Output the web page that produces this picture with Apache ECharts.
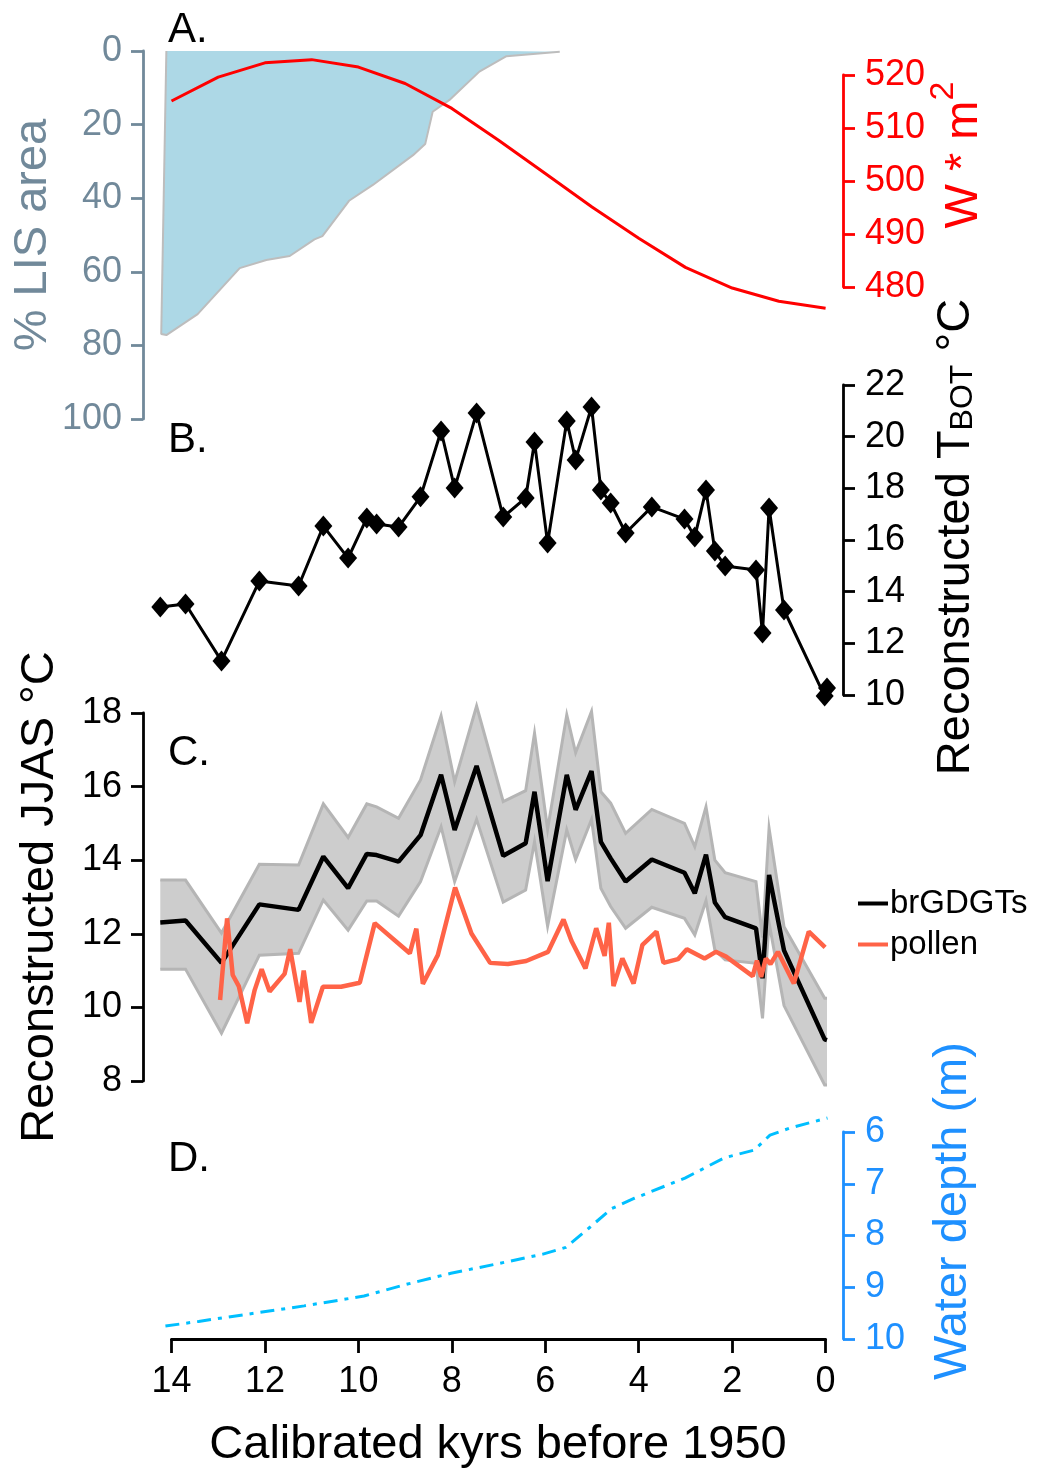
<!DOCTYPE html>
<html>
<head>
<meta charset="utf-8">
<script src="https://cdn.jsdelivr.net/npm/echarts@6/dist/echarts.min.js"></script>
<style>
  html, body { margin: 0; background: #fff; }
  #chart { width: 1037px; height: 1474px; }
</style>
</head>
<body>
<div id="chart"></div>
<script>
// A. Laurentide ice sheet extent and summer insolation
const lisAges = [14.11, 14.22, 14.11, 13.44, 12.54, 11.97, 11.47, 10.94, 10.77, 10.20, 9.69, 8.83, 8.57, 8.41, 8.05, 7.41, 6.83, 5.69];
const lisArea = [0, 76.9, 77.2, 71.5, 59.0, 56.8, 55.7, 51.2, 50.3, 40.7, 36.4, 28.3, 25.3, 16.5, 13.3, 5.6, 1.4, 0.2];
const insolAges = [14, 13, 12, 11, 10, 9, 8, 7, 6, 5, 4, 3, 2, 1, 0];
const insolation = [515.1, 519.6, 522.3, 522.9, 521.5, 518.4, 513.7, 507.7, 501.4, 495.1, 489.2, 483.7, 479.8, 477.3, 476.0];

// B. / C. brGDGT samples (shared ages)
const sampleAges = [14.24, 13.70, 12.93, 12.12, 11.28, 10.75, 10.22, 9.82, 9.61, 9.14, 8.67, 8.23, 7.94, 7.47, 6.90, 6.42, 6.23, 5.95, 5.54, 5.35, 5.01, 4.81, 4.60, 4.28, 3.72, 3.02, 2.80, 2.56, 2.37, 2.15, 1.49, 1.35, 1.21, 0.89, 0.02, -0.03];
const tBot = [13.41, 13.52, 11.32, 14.41, 14.22, 16.54, 15.30, 16.85, 16.62, 16.50, 17.67, 20.22, 18.01, 20.92, 16.89, 17.63, 19.79, 15.88, 20.61, 19.10, 21.15, 17.94, 17.43, 16.27, 17.28, 16.81, 16.12, 17.94, 15.57, 14.99, 14.84, 12.40, 17.24, 13.29, 9.96, 10.27];
const jjas = [12.31, 12.36, 11.21, 12.80, 12.65, 14.10, 13.24, 14.17, 14.14, 13.96, 14.68, 16.32, 14.82, 16.56, 14.12, 14.46, 15.86, 13.43, 16.32, 15.37, 16.42, 14.50, 14.05, 13.42, 14.02, 13.66, 13.10, 14.15, 12.85, 12.45, 12.15, 10.79, 13.60, 11.55, 9.13, 9.11];
const jjasUpper = [13.46, 13.46, 12.02, 13.89, 13.87, 15.53, 14.62, 15.53, 15.45, 15.14, 16.18, 17.92, 16.13, 18.19, 15.59, 15.89, 17.45, 14.84, 17.95, 16.92, 18.04, 15.86, 15.55, 14.73, 15.38, 15.00, 14.37, 15.45, 14.00, 13.66, 13.42, 11.90, 14.87, 12.19, 10.25, 10.25];
const jjasLower = [11.04, 11.04, 9.30, 11.42, 11.47, 12.92, 12.10, 12.89, 12.89, 12.48, 13.42, 14.91, 13.42, 15.11, 12.86, 13.19, 14.50, 12.21, 14.82, 14.02, 15.11, 13.24, 12.74, 12.15, 12.72, 12.42, 11.97, 12.90, 11.56, 11.29, 11.20, 9.70, 12.30, 10.05, 7.89, 7.89];

// C. pollen reconstruction
const pollenAges = [12.96, 12.81, 12.69, 12.56, 12.38, 12.22, 12.07, 11.90, 11.58, 11.46, 11.26, 11.17, 11.01, 10.76, 10.37, 9.97, 9.65, 8.90, 8.76, 8.62, 8.30, 7.93, 7.58, 7.18, 6.80, 6.41, 5.94, 5.61, 5.44, 5.14, 4.91, 4.73, 4.64, 4.54, 4.35, 4.11, 3.92, 3.62, 3.47, 3.16, 2.97, 2.59, 2.35, 2.13, 1.56, 1.47, 1.38, 1.28, 1.18, 1.02, 0.68, 0.36, 0.01];
const pollenT = [10.20, 12.42, 10.88, 10.58, 9.57, 10.47, 11.04, 10.43, 10.91, 11.58, 10.15, 11.00, 9.58, 10.56, 10.56, 10.67, 12.29, 11.47, 12.14, 10.64, 11.42, 13.26, 12.01, 11.21, 11.18, 11.26, 11.51, 12.39, 11.81, 11.06, 12.15, 11.40, 12.30, 10.58, 11.33, 10.65, 11.70, 12.06, 11.21, 11.31, 11.58, 11.33, 11.51, 11.38, 10.85, 11.27, 10.83, 11.33, 11.18, 11.51, 10.65, 12.06, 11.63];

// D. lake water depth
const depthAges = [14.13, 13.42, 12.14, 11.16, 9.88, 9.00, 8.02, 7.04, 6.05, 5.56, 5.07, 4.58, 4.09, 3.01, 2.17, 1.53, 1.19, 0.75, -0.04];
const waterDepth = [9.75, 9.66, 9.49, 9.36, 9.17, 8.95, 8.73, 8.55, 8.36, 8.23, 7.86, 7.48, 7.28, 6.89, 6.50, 6.35, 6.06, 5.92, 5.73];

const FONT = '"Liberation Sans", Arial, Helvetica, sans-serif';
const SLATE = '#71899a';
const BAND_EDGE = '#b5b5b5';
const zip = (xs, ys) => xs.map((x, i) => [x, ys[i]]);

// visible age axis spans 14 -> 0 between x=171.5 and x=825.6
const AX_L = 171.5, AX_R = 825.6;
const PX_PER_KYR = (AX_R - AX_L) / 14;
// data grids run a little wider so samples past 14 / 0 kyr still show
const EXT_MIN = -0.3, EXT_MAX = 14.4;
const EXT_L = AX_L - (EXT_MAX - 14) * PX_PER_KYR;
const EXT_R = AX_R - EXT_MIN * PX_PER_KYR;
const LEFT_AXIS_X = 143, RIGHT_AXIS_X = 843;

function dataGrid(top, height) {
  return { left: EXT_L, right: 1037 - EXT_R, top, height, outerBoundsMode: 'none', containLabel: false };
}

function hiddenX(gridIndex) {
  return { type: 'value', gridIndex, min: EXT_MIN, max: EXT_MAX, inverse: true, show: false, splitLine: { show: false } };
}

function makeY(gridIndex, position, min, max, interval, color, inverse) {
  return {
    type: 'value', gridIndex, position, min, max, interval, inverse: !!inverse,
    offset: position === 'left' ? EXT_L - LEFT_AXIS_X : RIGHT_AXIS_X - EXT_R,
    axisLine: { show: true, onZero: false, lineStyle: { color, width: 2.8 } },
    axisTick: { show: true, length: 12, lineStyle: { color, width: 2.8 } },
    axisLabel: { color, fontSize: 36, fontFamily: FONT, margin: position === 'left' ? 21 : 22 },
    splitLine: { show: false },
  };
}

function letter(text, y) {
  return {
    type: 'text', x: 168, y,
    style: { text, fontSize: 42, fontFamily: FONT, fill: '#000', align: 'left', verticalAlign: 'middle' },
  };
}

function vLabel(text, x, y, fill, rich) {
  return {
    type: 'text', x, y, rotation: Math.PI / 2,
    style: { text, fontSize: 47, fontFamily: FONT, fill, align: 'center', verticalAlign: 'middle', rich },
  };
}

// uncertainty envelope around the brGDGT reconstruction
function renderBand(params, api) {
  if (params.dataIndex !== 0) return null;
  const upper = sampleAges.map((a, i) => api.coord([a, jjasUpper[i]]));
  const lower = sampleAges.map((a, i) => api.coord([a, jjasLower[i]]));
  return {
    type: 'group',
    children: [
      { type: 'polygon', shape: { points: upper.concat(lower.slice().reverse()) }, style: { fill: '#cdcdcd' } },
      { type: 'polyline', shape: { points: upper }, style: { stroke: BAND_EDGE, lineWidth: 3, fill: null } },
      { type: 'polyline', shape: { points: lower }, style: { stroke: BAND_EDGE, lineWidth: 3, fill: null } },
    ],
  };
}

const chart = echarts.init(document.getElementById('chart'), null, { renderer: 'canvas' });

chart.setOption({
  animation: false,
  backgroundColor: '#fff',
  textStyle: { fontFamily: FONT },
  grid: [
    dataGrid(51, 368),   // 0 A: LIS area
    dataGrid(75, 212),   // 1 A: insolation
    dataGrid(385, 310),  // 2 B
    dataGrid(713, 368),  // 3 C
    dataGrid(1132, 207), // 4 D
    { left: AX_L, right: 1037 - AX_R, top: 1132, height: 207, outerBoundsMode: 'none', containLabel: false }, // 5 age axis
  ],
  xAxis: [
    hiddenX(0), hiddenX(1), hiddenX(2), hiddenX(3), hiddenX(4),
    {
      type: 'value', gridIndex: 5, min: 0, max: 14, interval: 2, inverse: true,
      axisLine: { show: true, onZero: false, lineStyle: { color: '#000', width: 2.8 } },
      axisTick: { show: true, length: 14, lineStyle: { color: '#000', width: 2.8 } },
      axisLabel: { color: '#000', fontSize: 36, fontFamily: FONT, margin: 25 },
      splitLine: { show: false },
    },
  ],
  yAxis: [
    makeY(0, 'left', 0, 100, 20, SLATE, true),
    makeY(1, 'right', 480, 520, 10, '#ff0000'),
    makeY(2, 'right', 10, 22, 2, '#000'),
    makeY(3, 'left', 8, 18, 2, '#000'),
    makeY(4, 'right', 6, 10, 1, '#1e90ff', true),
    { type: 'value', gridIndex: 5, min: 0, max: 1, show: false, splitLine: { show: false } },
  ],
  legend: {
    data: ['brGDGTs', 'pollen'],
    orient: 'vertical',
    left: 858, top: 887,
    icon: 'rect', itemWidth: 30, itemHeight: 4, itemGap: 8,
    padding: 0,
    textStyle: { fontSize: 33, fontFamily: FONT, color: '#000', lineHeight: 32, padding: [0, 0, 0, -3] },
  },
  series: [
    {
      type: 'line', xAxisIndex: 0, yAxisIndex: 0, data: zip(lisAges, lisArea),
      symbol: 'none', z: 1,
      lineStyle: { color: '#bdbdbd', width: 2 },
      areaStyle: { color: '#add8e6', opacity: 1 },
    },
    {
      type: 'line', xAxisIndex: 1, yAxisIndex: 1, data: zip(insolAges, insolation),
      symbol: 'none', clip: false, z: 3,
      lineStyle: { color: '#ff0000', width: 3 },
    },
    {
      type: 'line', xAxisIndex: 2, yAxisIndex: 2, data: zip(sampleAges, tBot),
      symbol: 'diamond', symbolSize: [18, 21], clip: false, z: 3,
      itemStyle: { color: '#000' },
      lineStyle: { color: '#000', width: 3 },
    },
    {
      type: 'custom', xAxisIndex: 3, yAxisIndex: 3, z: 2, clip: false,
      data: sampleAges.map((a, i) => [a, jjasLower[i], jjasUpper[i]]),
      renderItem: renderBand,
    },
    {
      name: 'brGDGTs', type: 'line', xAxisIndex: 3, yAxisIndex: 3, data: zip(sampleAges, jjas),
      symbol: 'none', clip: false, z: 4, color: '#000',
      lineStyle: { color: '#000', width: 4.5 },
    },
    {
      name: 'pollen', type: 'line', xAxisIndex: 3, yAxisIndex: 3, data: zip(pollenAges, pollenT),
      symbol: 'none', clip: false, z: 5, color: '#ff6347',
      lineStyle: { color: '#ff6347', width: 4.5 },
    },
    {
      type: 'line', xAxisIndex: 4, yAxisIndex: 4, data: zip(depthAges, waterDepth),
      symbol: 'none', clip: false, z: 3,
      lineStyle: { color: '#00bfff', width: 3, type: [14, 7, 4, 7] },
    },
  ],
  graphic: [
    letter('A.', 30),
    letter('B.', 440),
    letter('C.', 753),
    letter('D.', 1159),
    vLabel('% LIS area', 33, 235, SLATE),
    vLabel('Reconstructed JJAS °C', 40, 897, '#000'),
    vLabel('{a|W * m}{b|2}', 964, 155, '#ff0000', {
      a: { fontSize: 47, fontFamily: FONT, fill: '#ff0000' },
      b: { fontSize: 34, fontFamily: FONT, fill: '#ff0000', padding: [0, 0, 40, 0] },
    }),
    vLabel('{a|Reconstructed T}{s|BOT}{a| °C}', 956, 537, '#000', {
      a: { fontSize: 47, fontFamily: FONT, fill: '#000' },
      s: { fontSize: 32, fontFamily: FONT, fill: '#000', verticalAlign: 'bottom', padding: [6, 0, 0, 0] },
    }),
    vLabel('Water depth (m)', 953, 1211, '#1e90ff'),
    {
      type: 'text', x: 498, y: 1445,
      style: { text: 'Calibrated kyrs before 1950', fontSize: 47, fontFamily: FONT, fill: '#000', align: 'center', verticalAlign: 'middle' },
    },
  ],
});
</script>
</body>
</html>
